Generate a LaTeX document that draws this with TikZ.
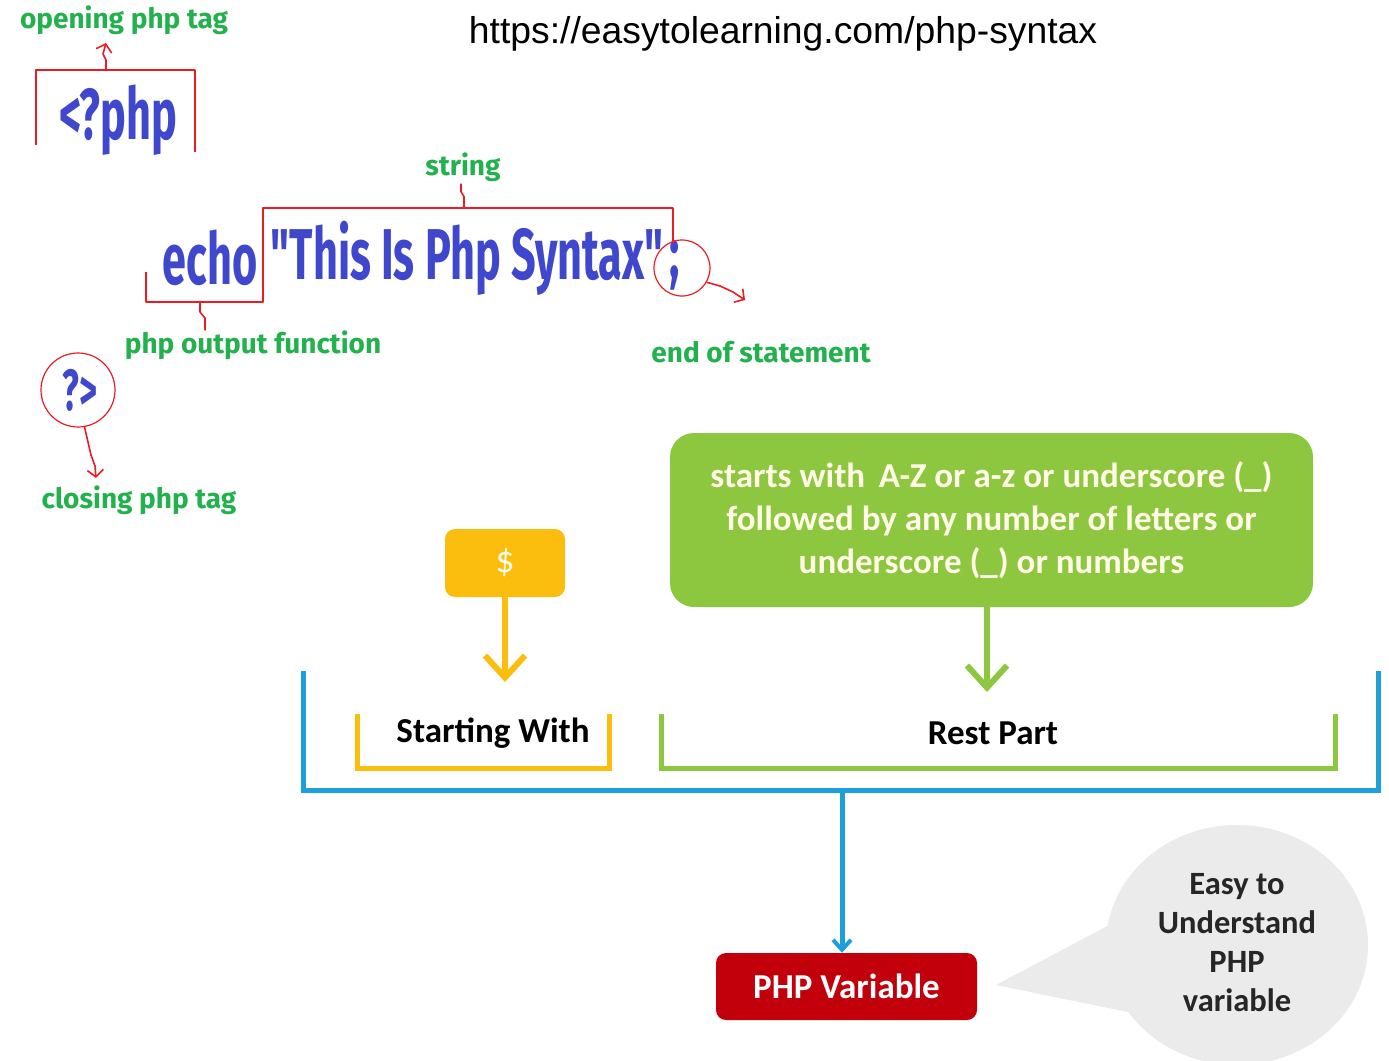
\documentclass[tikz,border=0pt]{standalone}
\usepackage{fontspec}
\usetikzlibrary{arrows.meta}
\usetikzlibrary{positioning}
\usetikzlibrary{shapes.geometric}
\newfontfamily\urlfont{Liberation Sans}
\newfontfamily\lablfont{Fira Sans}
\newfontfamily\codefont[FakeStretch=0.6]{Fira Sans}
\newfontfamily\boxfont{Carlito}
\definecolor{paintred}{HTML}{ED1C24}
\definecolor{paintgreen}{HTML}{22B14C}
\definecolor{paintblue}{HTML}{3F48CC}
\definecolor{rulegreen}{HTML}{8DC63F}
\definecolor{dollaryellow}{HTML}{FBBD0E}
\definecolor{brackblue}{HTML}{1CA0DB}
\definecolor{varred}{HTML}{C1000B}
\definecolor{bubgray}{HTML}{EBEBEB}
\definecolor{paletext}{HTML}{FFFBE6}
\tikzset{
  lbl/.style={inner sep=0pt,text=paintgreen,font=\lablfont\bfseries\fontsize{28}{30}\selectfont},
  code/.style={inner sep=0pt,text=paintblue,font=\codefont\bfseries\fontsize{72}{76}\selectfont},
  handline/.style={draw=paintred,line width=1.6pt,line join=round},
  handarrow/.style={handline,-{Straight Barb[length=7pt,width=16pt,line width=1.6pt]}},
  boxtext/.style={font=\boxfont\bfseries\fontsize{35}{43}\selectfont},
  brack/.style={line width=5pt,line cap=rect},
}
\newcommand{\lablnote}[4]{\node[lbl] (#1) at ( #2 , #3 ) {#4};}
\newcommand{\codenote}[4]{\node[code] (#1) at ( #2 , #3 ) {#4};}
\begin{document}
\begin{tikzpicture}[x=1pt,y=-1pt]
        \useasboundingbox[fill=white] (0,0) rectangle (1389,1060);

        % url
        \node[inner sep=0pt,font=\urlfont\fontsize{37.3}{40}\selectfont] (url) at (783,34) {https://easytolearning.com/php-syntax};

        % opening tag
        \lablnote{openlbl}{124}{20}{opening php tag}
        \codenote{opentag}{118}{120}{<?php}
        \draw[handline] (36,145) -- (36,70) -- (195,70) -- (195,152);
        \coordinate (opentop) at (106,70);
        \draw[handarrow] (opentop) -- (106,60) -- (103,54) -- (106,43);

        % echo line
        \codenote{echo}{210}{258}{echo}
        \codenote{str}{467}{258}{"This Is Php Syntax"}
        \codenote{semi}{675}{266}{;}
        \lablnote{strlbl}{463}{167}{string}
        \lablnote{outlbl}{253}{345}{php output function}
        \lablnote{endlbl}{761}{352}{end of statement}

        % string bracket
        \draw[handline] (263,258) -- (263,208) -- (673,208) -- (673,243);
        \draw[handline] (strlbl.south) ++(-2,2) -- ++(0,8) -- ++(3,5) -- (464,208);

        % echo bracket
        \draw[handline] (146,272) -- (146,302) -- (263,302) -- (263,242);
        \draw[handline] (200,302) -- (200,312) -- (205,318) -- (outlbl.north -| 205,0);

        % semicolon
        \node[draw=paintred,line width=1.2pt,circle,minimum size=56pt] (semicirc) at (682,268) {};
        \draw[handarrow] (semicirc.-30) -- (720,286) -- (733,292) -- (745,300);

        % closing tag
        \node[draw=paintred,line width=1.2pt,circle,minimum size=74pt] (closecirc) at (78,390) {};
        \node[code,font=\codefont\bfseries\fontsize{58}{60}\selectfont] (closetag) at (80,390) {?>};
        \lablnote{closelbl}{139}{500}{closing php tag}
        \draw[handarrow] (closecirc.-80) -- (91,455) -- (95,466) -- (96,478);

        % rule box
        \node[fill=rulegreen,rounded corners=24pt,minimum width=643pt,minimum height=174pt,
              text=paletext,boxtext,align=center] (rulebox) at (991.5,520)
              {starts with\, A-Z or a-z or underscore (\_)\\followed by any number of letters or\\underscore (\_) or numbers};
        \node[fill=dollaryellow,rounded corners=10pt,minimum width=120pt,minimum height=68pt,
              text=paletext,font=\boxfont\fontsize{38}{40}\selectfont] (dollar) at (505,563) {\$};

        % brackets
        \draw[brack,draw=dollaryellow] (357,716) -- (357,768) -- (609,768) -- (609,716);
        \draw[brack,draw=rulegreen] (661,716) -- (661,768) -- (1335,768) -- (1335,716);
        \draw[brack,draw=brackblue] (303,673) -- (303,790) -- (1378,790) -- (1378,673);
        \node[boxtext,inner sep=0pt] (startw) at (493,733) {Starting With};
        \node[boxtext,inner sep=0pt] (restp) at (993,733) {Rest Part};

        % arrows
        \coordinate (swtop) at (505,682);
        \coordinate (rptop) at (987,692);
        \coordinate (bmid) at (842,790);
        \draw[line width=6pt,dollaryellow,-{Straight Barb[length=22pt,width=40pt,line width=6pt]}] (dollar.south) -- (swtop);
        \draw[line width=6pt,rulegreen,-{Straight Barb[length=22pt,width=40pt,line width=6pt]}] (rulebox.south -| rptop) -- (rptop);

        % result
        \node[fill=varred,rounded corners=10pt,minimum width=261pt,minimum height=67pt,
              text=white,boxtext] (phpvar) at (846.5,986.5) {PHP Variable};
        \draw[line width=5pt,brackblue,-{Straight Barb[length=10pt,width=18pt,line width=4pt]}] (bmid) -- (bmid |- phpvar.north);

        % bubble
        \coordinate (bubtip) at (996,985);
        \fill[bubgray] (bubtip) -- (1115,922) -- (1128,1012) -- cycle;
        \node[fill=bubgray,ellipse,minimum width=262pt,minimum height=240pt] (bubble) at (1237,945) {};
        \node[boxtext,text=black!85,align=center,font=\boxfont\bfseries\fontsize{32.5}{39}\selectfont] (bubtext) at (1237,943)
              {Easy to\\Understand\\PHP\\variable};

    \end{tikzpicture}
\end{document}
